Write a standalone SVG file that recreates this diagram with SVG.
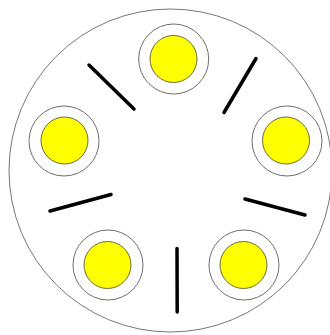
<svg xmlns="http://www.w3.org/2000/svg" width="330" height="335" viewBox="0 0 330 335">
<style>
.ring{fill:#fff;stroke:#6e6e6e;stroke-width:1}
.lamp{fill:#ffff00;stroke:#6b6b3a;stroke-width:1}
.bar{stroke:#000;stroke-width:3.5;stroke-linecap:round;fill:none}
</style>
<rect width="330" height="335" fill="#fff"/>
<circle id="outer" cx="170.5" cy="170.5" r="161.5" fill="#fff" stroke="#777" stroke-width="1"/>
<g id="n-top"><circle class="ring" cx="173.7" cy="59" r="35"/><circle class="lamp" cx="173.5" cy="59" r="23.5"/></g>
<g id="n-left"><circle class="ring" cx="64" cy="141" r="35"/><circle class="lamp" cx="64.5" cy="140.5" r="23.5"/></g>
<g id="n-right"><circle class="ring" cx="287" cy="141" r="35"/><circle class="lamp" cx="286" cy="140.5" r="23.5"/></g>
<g id="n-bl"><circle class="ring" cx="108" cy="265" r="35"/><circle class="lamp" cx="107.5" cy="265" r="23.5"/></g>
<g id="n-br"><circle class="ring" cx="244" cy="265" r="35"/><circle class="lamp" cx="243.5" cy="265" r="23.5"/></g>
<g id="bars">
<line class="bar" x1="89" y1="65" x2="134" y2="109"/>
<line class="bar" x1="256" y1="58.5" x2="224" y2="112.5"/>
<line class="bar" x1="50" y1="211" x2="111" y2="194.5"/>
<line class="bar" x1="245" y1="199" x2="305" y2="215"/>
<line class="bar" x1="177" y1="248.5" x2="177.2" y2="312"/>
</g>
</svg>
